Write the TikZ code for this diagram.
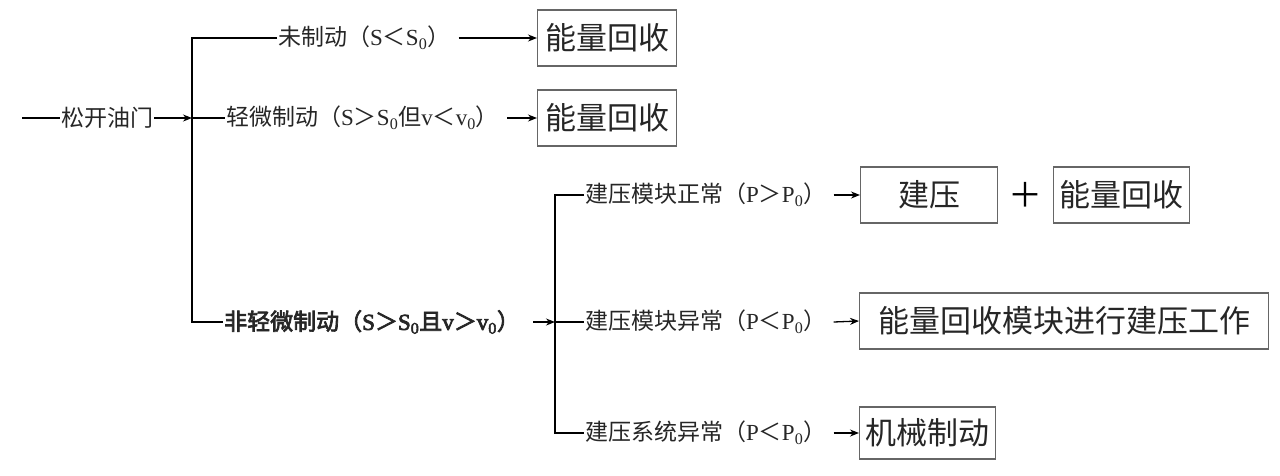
\documentclass[tikz,border=0pt]{standalone}
\usepackage{fontspec}
\setmainfont{Liberation Serif}
\newfontfamily\cjk{Noto Sans CJK SC}
\newfontfamily\cjkb[FakeBold=3]{Noto Sans CJK SC}
\newfontfamily\serb[FakeBold=3]{Liberation Serif}
\usetikzlibrary{arrows.meta}
\newcommand{\cj}[1]{{\cjk #1}}
\newcommand{\cjb}[1]{{\cjkb #1}}
\newcommand{\zs}{\textsubscript{0}}
\begin{document}
\begin{tikzpicture}[x=1pt,y=-1pt,
  lbl/.style={font=\fontsize{23}{25}\selectfont, inner sep=1pt, text=black!85},
  res/.style={draw=black!60, line width=1.2pt, font=\fontsize{31}{34}\selectfont\cjk, text=black!85, minimum height=56pt, inner sep=3pt},
  ln/.style={line width=1.3pt},
  arr/.style={line width=1.3pt, -{Stealth[length=9pt,width=7pt]}}]
\useasboundingbox (0,0) rectangle (1280,475);

% coordinates of the trunk lines
\coordinate (s) at (22,118);
\coordinate (v1t) at (192,38);
\coordinate (v1m) at (192,118);
\coordinate (v1b) at (192,322);
\coordinate (v2t) at (555,195);
\coordinate (v2m) at (555,322);
\coordinate (v2b) at (555,433);

% labels
\node[lbl,anchor=west] (song) at (60,118) {\cj{松开油门}};
\node[lbl,anchor=west] (wz) at (277,38) {\cj{未制动（}S\cj{＜}S\zs\cj{）}};
\node[lbl,anchor=west] (qw) at (225,118) {\cj{轻微制动（}S\cj{＞}S\zs\cj{但}v\cj{＜}v\zs\cj{）}};
\node[lbl,anchor=west,font=\fontsize{23}{25}\selectfont\serb] (fq) at (223,322) {\cjb{非轻微制动（}S\cjb{＞}S\zs\cjb{且}v\cjb{＞}v\zs\cjb{）}};
\node[lbl,anchor=west] (j1) at (584,195) {\cj{建压模块正常（}P\cj{＞}P\zs\cj{）}};
\node[lbl,anchor=west] (j2) at (584,322) {\cj{建压模块异常（}P\cj{＜}P\zs\cj{）}};
\node[lbl,anchor=west] (j3) at (584,433) {\cj{建压系统异常（}P\cj{＜}P\zs\cj{）}};

% result boxes
\node[res,anchor=west,minimum width=139pt] (b1) at (537,38) {能量回收};
\node[res,anchor=west,minimum width=139pt] (b2) at (537,118) {能量回收};
\node[res,anchor=west,minimum width=137pt] (b3) at (860,195) {建压};
\node[font=\fontsize{34}{36}\selectfont\cjk, inner sep=0pt] (plus) at (1025,195) {＋};
\node[res,anchor=west,minimum width=136pt] (b4) at (1053,195) {能量回收};
\node[res,anchor=west,minimum width=409pt] (b5) at (859,321) {能量回收模块进行建压工作};
\node[res,anchor=west,minimum width=136pt,minimum height=52pt] (b6) at (859,433) {机械制动};

% connectors
\draw[ln] (s) -- (song.west);
\draw[arr] (song.east) -- (v1m);
\draw[ln] (v1m) -- (qw.west);
\draw[ln] (wz.west) -- (v1t) -- (v1b) -- (fq.west);
\draw[arr] ([xshift=7pt]wz.east) -- (b1.west);
\draw[arr] ([xshift=7pt]qw.east) -- (b2.west);
\draw[arr] ([xshift=12pt]fq.east) -- (v2m);
\draw[ln] (j1.west) -- (v2t) -- (v2b) -- (j3.west);
\draw[ln] (v2m) -- (j2.west);
\draw[arr] ([xshift=6pt]j1.east) -- (b3.west);
\draw[arr] ([xshift=6pt]j2.east) -- (b5.west);
\draw[arr] ([xshift=6pt]j3.east) -- (b6.west);
\end{tikzpicture}
\end{document}
